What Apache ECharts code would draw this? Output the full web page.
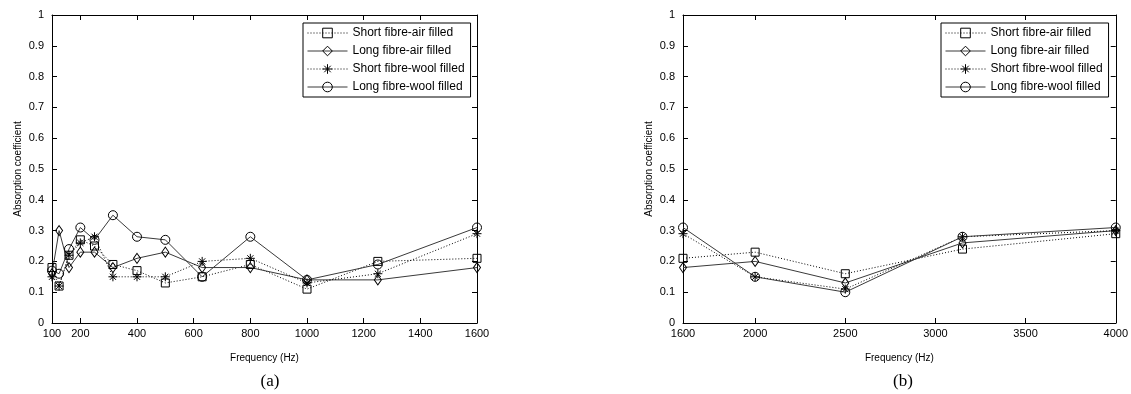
<!DOCTYPE html>
<html>
<head>
<meta charset="utf-8">
<script src="https://cdn.jsdelivr.net/npm/echarts@6/dist/echarts.min.js"></script>
<style>
html, body { margin: 0; padding: 0; background: #fff; }
#chart { width: 1131px; height: 394px; }
</style>
</head>
<body>
<div id="chart"></div>
<script>
const seriesNames = ['Short fibre-air filled', 'Long fibre-air filled', 'Short fibre-wool filled', 'Long fibre-wool filled'];

// (a) 100 - 1600 Hz
const freqA = [100, 125, 160, 200, 250, 315, 400, 500, 630, 800, 1000, 1250, 1600];
const shortAirA = [0.18, 0.12, 0.22, 0.27, 0.25, 0.19, 0.17, 0.13, 0.15, 0.19, 0.11, 0.20, 0.21];
const longAirA = [0.16, 0.30, 0.18, 0.23, 0.23, 0.18, 0.21, 0.23, 0.18, 0.18, 0.14, 0.14, 0.18];
const shortWoolA = [0.15, 0.12, 0.22, 0.26, 0.28, 0.15, 0.15, 0.15, 0.20, 0.21, 0.13, 0.16, 0.29];
const longWoolA = [0.17, 0.16, 0.24, 0.31, 0.27, 0.35, 0.28, 0.27, 0.15, 0.28, 0.14, 0.19, 0.31];
const ticksA = [100, 200, 400, 600, 800, 1000, 1200, 1400, 1600];

// (b) 1600 - 4000 Hz
const freqB = [1600, 2000, 2500, 3150, 4000];
const shortAirB = [0.21, 0.23, 0.16, 0.24, 0.29];
const longAirB = [0.18, 0.20, 0.13, 0.26, 0.30];
const shortWoolB = [0.29, 0.15, 0.11, 0.28, 0.30];
const longWoolB = [0.31, 0.15, 0.10, 0.28, 0.31];
const ticksB = [1600, 2000, 2500, 3000, 3500, 4000];

const FONT = '"Liberation Sans", Arial, sans-serif';
const asterisk = 'path://M5,0L5,10M0,5L10,5M1.6,1.6L8.4,8.4M1.6,8.4L8.4,1.6';

// marker / line look per series (same order as seriesNames)
const looks = [
    { dotted: true, symbol: 'rect', size: 8, color: '#000' },
    { dotted: false, symbol: 'diamond', size: [7, 10], color: '#3a3a3a' },
    { dotted: true, symbol: asterisk, size: 9, color: '#000' },
    { dotted: false, symbol: 'circle', size: 9, color: '#3a3a3a' },
];

function makeSeries(freqs, valueSets, axisIdx) {
    return valueSets.map((vals, i) => ({
        name: seriesNames[i],
        type: 'line',
        xAxisIndex: axisIdx,
        yAxisIndex: axisIdx,
        data: freqs.map((f, k) => [f, vals[k]]),
        symbol: looks[i].symbol,
        symbolSize: looks[i].size,
        showAllSymbol: true,
        lineStyle: {
            color: looks[i].color,
            width: 1,
            type: looks[i].dotted ? [1, 2] : 'solid',
        },
        itemStyle: {
            color: 'rgba(0,0,0,0)',
            borderColor: '#000',
            borderWidth: 1,
        },
        emphasis: { disabled: true },
        z: 3,
    }));
}

function xAxes(grid, min, max, ticks) {
    const base = {
        gridIndex: grid,
        type: 'value',
        min: min,
        max: max,
        splitLine: { show: false },
        axisLine: { onZero: false, lineStyle: { color: '#000', width: 1 } },
        axisTick: { inside: true, length: 5, customValues: ticks, lineStyle: { color: '#000' } },
    };
    return [
        Object.assign({}, base, {
            position: 'bottom',
            name: 'Frequency (Hz)',
            nameLocation: 'middle',
            nameGap: 30,
            nameTextStyle: { fontFamily: FONT, fontSize: 10, color: '#000' },
            axisLabel: {
                customValues: ticks, margin: 5, fontFamily: FONT, fontSize: 11, color: '#000',
                formatter: v => String(v),
            },
        }),
        Object.assign({}, base, { position: 'top', axisLabel: { show: false } }),
    ];
}

function yAxes(grid) {
    const base = {
        gridIndex: grid,
        type: 'value',
        min: 0,
        max: 1,
        interval: 0.1,
        splitLine: { show: false },
        axisLine: { onZero: false, lineStyle: { color: '#000', width: 1 } },
        axisTick: { inside: true, length: 5, lineStyle: { color: '#000' } },
    };
    return [
        Object.assign({}, base, {
            position: 'left',
            name: 'Absorption coefficient',
            nameLocation: 'middle',
            nameGap: 29,
            nameRotate: 90,
            nameTextStyle: { fontFamily: FONT, fontSize: 10, color: '#000' },
            axisLabel: {
                margin: 8, fontFamily: FONT, fontSize: 11, color: '#000',
                formatter: v => String(Math.round(v * 10) / 10),
            },
        }),
        Object.assign({}, base, { position: 'right', axisLabel: { show: false } }),
    ];
}

function legendAt(left) {
    return {
        data: seriesNames,
        orient: 'vertical',
        left: left,
        top: 23,
        itemWidth: 40,
        itemHeight: 12,
        itemGap: 6,
        padding: [4, 6, 4, 4],
        borderColor: '#000',
        borderWidth: 1,
        borderRadius: 0,
        backgroundColor: '#fff',
        selectedMode: false,
        itemStyle: { borderWidth: 1 },
        lineStyle: { width: 1 },
        textStyle: { fontFamily: FONT, fontSize: 12, color: '#000' },
    };
}

const chart = echarts.init(document.getElementById('chart'), null, { renderer: 'canvas' });

const xa = xAxes(0, 100, 1600, ticksA);
const xb = xAxes(1, 1600, 4000, ticksB);
const ya = yAxes(0);
const yb = yAxes(1);

const seriesA = makeSeries(freqA, [shortAirA, longAirA, shortWoolA, longWoolA], 0);
const seriesB = makeSeries(freqB, [shortAirB, longAirB, shortWoolB, longWoolB], 2);

chart.setOption({
    animation: false,
    backgroundColor: '#fff',
    title: [
        { text: '(a)', left: 265, top: 368, textAlign: 'center',
          textStyle: { fontFamily: '"Liberation Serif", "Times New Roman", serif', fontSize: 17, fontWeight: 'normal', color: '#000' } },
        { text: '(b)', left: 898, top: 368, textAlign: 'center',
          textStyle: { fontFamily: '"Liberation Serif", "Times New Roman", serif', fontSize: 17, fontWeight: 'normal', color: '#000' } },
    ],
    grid: [
        { left: 52, top: 15, width: 425, height: 308 },
        { left: 683, top: 15, width: 433, height: 308 },
    ],
    legend: [legendAt(303), legendAt(941)],
    xAxis: [xa[0], xa[1], xb[0], xb[1]],
    yAxis: [ya[0], ya[1], yb[0], yb[1]],
    series: seriesA.concat(seriesB),
});
</script>
</body>
</html>
